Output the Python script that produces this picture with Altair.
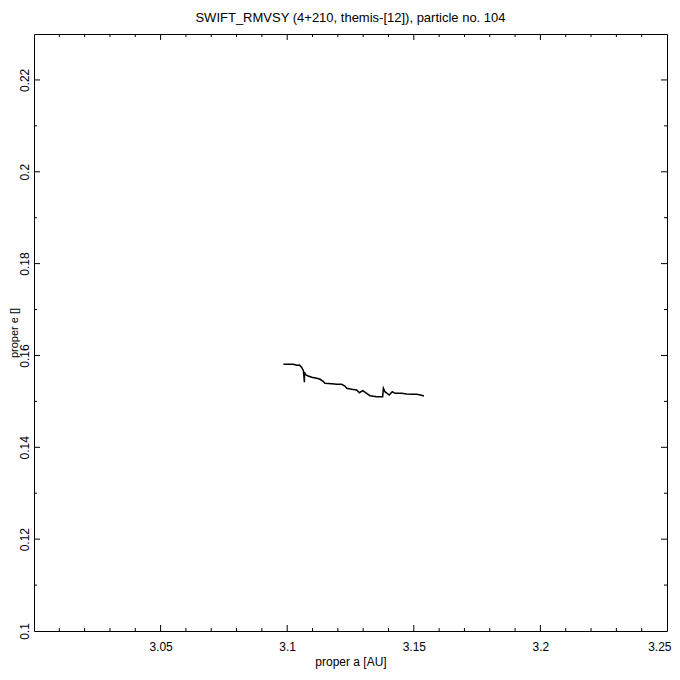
import altair as alt
import pandas as pd

# Trajectory in proper elements
prop_a = [3.0985, 3.1024, 3.1038, 3.1048, 3.1057, 3.1064, 3.1068, 3.1068, 3.1074, 3.1083,
          3.1097, 3.1117, 3.1130, 3.1143, 3.1149, 3.1176, 3.1196, 3.1215, 3.1228, 3.1235,
          3.1255, 3.1274, 3.1285, 3.1298, 3.1314, 3.1327, 3.1353, 3.1377, 3.1380, 3.1386,
          3.1403, 3.1415, 3.1426, 3.1452, 3.1472, 3.1492, 3.1511, 3.1527, 3.1540]
prop_e = [0.15808, 0.15810, 0.15786, 0.15790, 0.15742, 0.15668, 0.15416, 0.15640, 0.15575, 0.15553,
          0.15525, 0.15503, 0.15481, 0.15429, 0.15394, 0.15385, 0.15372, 0.15372, 0.15335, 0.15285,
          0.15263, 0.15248, 0.15189, 0.15233, 0.15176, 0.15124, 0.15102, 0.15102, 0.15285, 0.15211,
          0.15139, 0.15211, 0.15176, 0.15176, 0.15161, 0.15154, 0.15154, 0.15139, 0.15117]

x_labels = [3.05, 3.1, 3.15, 3.2, 3.25]
y_labels = [0.1, 0.12, 0.14, 0.16, 0.18, 0.2, 0.22]
x_major = [3.05, 3.1, 3.15, 3.2]
x_minor = [3.01, 3.02, 3.03, 3.04, 3.06, 3.07, 3.08, 3.09, 3.11, 3.12, 3.13, 3.14,
           3.16, 3.17, 3.18, 3.19, 3.21, 3.22, 3.23, 3.24]
y_major = [0.12, 0.14, 0.16, 0.18, 0.2, 0.22]
y_minor = [0.11, 0.13, 0.15, 0.17, 0.19, 0.21]
title_text = "SWIFT_RMVSY (4+210, themis-[12]), particle no. 104"

W, H = 633, 597
FONT = "Liberation Sans"

xs = alt.Scale(domain=[3.0, 3.25], nice=False, zero=False)
ys = alt.Scale(domain=[0.1, 0.23], nice=False, zero=False)

x_axis = alt.Axis(
    values=x_labels, labelExpr="'' + datum.value", ticks=False, tickSize=0,
    domain=False, grid=False, labelFlush=True, labelFlushOffset=4, labelOverlap=False,
    labelPadding=15, labelBaseline="middle", labelFont=FONT, labelFontSize=12,
    labelColor="black", title="proper a [AU]", titleFont=FONT, titleFontSize=12,
    titleFontWeight="normal", titleColor="black", titleBaseline="middle", titleY=30)
y_axis = alt.Axis(
    values=y_labels, labelExpr="'' + datum.value", ticks=False, tickSize=0,
    domain=False, grid=False, labelFlush=False, labelOverlap=False,
    labelAngle=270, labelAlign="center", labelBaseline="middle", labelPadding=10,
    labelFont=FONT, labelFontSize=12, labelColor="black",
    title="proper e []", titleFont=FONT, titleFontSize=11, titleFontWeight="normal",
    titleColor="black", titleAngle=270, titleBaseline="middle", titleX=-20)

df = pd.DataFrame({"a": prop_a, "e": prop_e, "i": list(range(len(prop_a)))})

line = alt.Chart(df).mark_line(color="black", strokeWidth=1.5).encode(
    x=alt.X("a:Q", scale=xs, axis=x_axis),
    y=alt.Y("e:Q", scale=ys, axis=y_axis),
    order="i:Q",
)


def xticks(vals, y0, y1):
    return alt.Chart(pd.DataFrame({"a": vals})).mark_rule(color="black", strokeWidth=1).encode(
        x=alt.X("a:Q", scale=xs, axis=x_axis), y=alt.value(y0), y2=alt.value(y1))


def yticks(vals, x0, x1):
    return alt.Chart(pd.DataFrame({"e": vals})).mark_rule(color="black", strokeWidth=1).encode(
        y=alt.Y("e:Q", scale=ys, axis=y_axis), x=alt.value(x0), x2=alt.value(x1))


title_mark = alt.Chart(pd.DataFrame({"t": [title_text]})).mark_text(
    font=FONT, fontSize=13, color="black", align="center", baseline="middle"
).encode(text="t:N", x=alt.value(W / 2), y=alt.value(-16))

layers = [
    line,
    xticks(x_major, H, H - 6), xticks(x_major, 0, 6),
    xticks(x_minor, H, H - 3), xticks(x_minor, 0, 3),
    yticks(y_major, 0, 6), yticks(y_major, W, W - 6),
    yticks(y_minor, 0, 3), yticks(y_minor, W, W - 3),
    title_mark,
]

chart = alt.layer(*layers).properties(
    width=W, height=H,
    autosize=alt.AutoSizeParams(type="none"),
    padding={"left": 26, "top": 26, "right": 5, "bottom": 39},
    background="white",
).configure_view(stroke="black", strokeWidth=1)

chart.save("out.html", embed_options={"renderer": "svg", "actions": False})
